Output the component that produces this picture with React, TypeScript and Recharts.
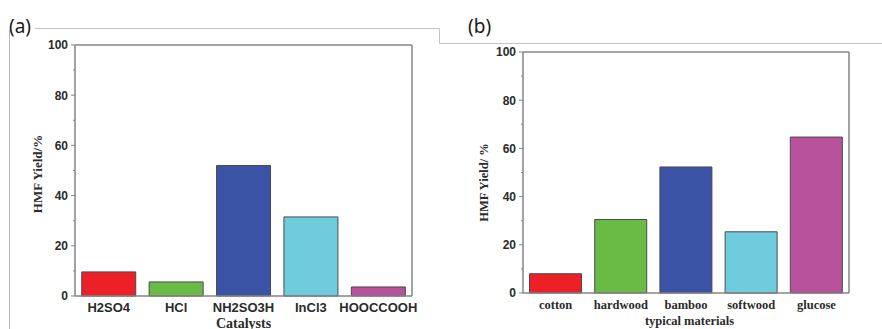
import React from 'react';
import { BarChart, Bar, XAxis, YAxis, Cell, CartesianGrid } from 'recharts';

// ---- data ----
const catalysts = ['H2SO4', 'HCl', 'NH2SO3H', 'InCl3', 'HOOCCOOH'];
const catalystYield = [9.6, 5.6, 52.0, 31.5, 3.6];
const materials = ['cotton', 'hardwood', 'bamboo', 'softwood', 'glucose'];
const materialYield = [8.0, 30.5, 52.3, 25.4, 64.7];
const yTicks = [0, 10, 20, 30, 40, 50, 60, 70, 80, 90, 100];
const barColors = ['#EE2027', '#6ABB45', '#3A53A4', '#6FCCDD', '#B8529D'];

const dataA = catalysts.map((name, i) => ({ name, value: catalystYield[i] }));
const dataB = materials.map((name, i) => ({ name, value: materialYield[i] }));

const SANS = '"Liberation Sans", Arial, sans-serif';
const SERIF = '"Liberation Serif", "Times New Roman", serif';
const AXIS = '#858585';
const TEXT = '#2b2b2b';

const YTick = (props: any) => {
  const { x, y, payload } = props;
  const v = payload.value;
  const major = v % 20 === 0;
  return (
    <g>
      <line x1={major ? x + 3 : x + 5} x2={x + 7} y1={y} y2={y} stroke={AXIS} strokeWidth={1} />
      {major && (
        <text x={x} y={y} dy={4.3} textAnchor="end" fontFamily={SANS} fontWeight="bold" fontSize={12} fill={TEXT}>
          {v}
        </text>
      )}
    </g>
  );
};

const makeXTick = (family: string, size: number, dy: number) => (props: any) => (
  <text x={props.x} y={props.y} dy={dy} textAnchor="middle" fontFamily={family} fontWeight="bold" fontSize={size} fill={TEXT}>
    {props.payload.value}
  </text>
);

const XTickA = makeXTick(SANS, 13, 15.6);
const XTickB = makeXTick(SERIF, 12.5, 15.7);

interface PanelProps {
  data: { name: string; value: number }[];
  width: number;
  margin: { top: number; right: number; bottom: number; left: number };
  yWidth: number;
  xHeight: number;
  xTick: any;
  xTitle: string;
  xTitleX: number;
  xTitleY: number;
  xTitleSize: number;
  yTitle: string;
  yTitleX: number;
  yTitleY: number;
  yTitleSize: number;
}

const Panel = (p: PanelProps) => (
  <BarChart width={p.width} height={329} data={p.data} margin={p.margin} barCategoryGap="10%">
    <CartesianGrid
      stroke={AXIS}
      strokeWidth={1.5}
      horizontalCoordinatesGenerator={(g: any) => [g.offset.top]}
      verticalCoordinatesGenerator={(g: any) => [g.offset.left + g.offset.width]}
    />
    <XAxis
      dataKey="name"
      height={p.xHeight}
      tickLine={false}
      tickSize={0}
      tickMargin={0}
      interval={0}
      axisLine={{ stroke: AXIS, strokeWidth: 1.5 }}
      tick={p.xTick}
      label={() => (
        <text x={p.xTitleX} y={p.xTitleY} textAnchor="middle" fontFamily={SERIF} fontWeight="bold" fontSize={p.xTitleSize} fill={TEXT}>
          {p.xTitle}
        </text>
      )}
    />
    <YAxis
      domain={[0, 100]}
      ticks={yTicks}
      interval={0}
      width={p.yWidth}
      tickSize={4}
      tickMargin={3}
      tickLine={false}
      axisLine={{ stroke: AXIS, strokeWidth: 1.5 }}
      tick={YTick}
      label={() => (
        <text
          transform={`translate(${p.yTitleX},${p.yTitleY}) rotate(-90)`}
          textAnchor="middle"
          fontFamily={SERIF}
          fontWeight="bold"
          fontSize={p.yTitleSize}
          fill={TEXT}
        >
          {p.yTitle}
        </text>
      )}
    />
    <Bar dataKey="value" isAnimationActive={false} stroke="#4a4a4a" strokeWidth={1}>
      {p.data.map((d, i) => (
        <Cell key={d.name} fill={barColors[i]} />
      ))}
    </Bar>
  </BarChart>
);

export default function App() {
  return (
    <div style={{ position: 'absolute', left: 0, top: 0, width: 882, height: 329, background: '#fff', overflow: 'hidden' }}>
      <svg width={882} height={329} style={{ position: 'absolute', left: 0, top: 0 }}>
        <polyline points="9.5,30 9.5,329" fill="none" stroke="#b8b8b8" strokeWidth={1} />
        <polyline points="35,28.5 439.5,28.5 439.5,43.5 882,43.5" fill="none" stroke="#c4c4c4" strokeWidth={1} />
        <text x={9} y={33} fontFamily='"Noto Sans", sans-serif' fontSize={19} fill="#1a1a1a">(a)</text>
        <text x={468} y={33} fontFamily='"Noto Sans", sans-serif' fontSize={19} fill="#1a1a1a">(b)</text>
      </svg>
      <div style={{ position: 'absolute', left: 0, top: 0 }}>
        <Panel
          data={dataA}
          width={450}
          margin={{ top: 45, right: 38, bottom: 0, left: 0 }}
          yWidth={75}
          xHeight={33}
          xTick={XTickA}
          xTitle="Catalysts"
          xTitleX={243.5}
          xTitleY={327.5}
          xTitleSize={14}
          yTitle="HMF Yield/%"
          yTitleX={41.8}
          yTitleY={174}
          yTitleSize={13}
        />
      </div>
      <div style={{ position: 'absolute', left: 440, top: 0 }}>
        <Panel
          data={dataB}
          width={442}
          margin={{ top: 52, right: 33, bottom: 0, left: 0 }}
          yWidth={83}
          xHeight={36}
          xTick={XTickB}
          xTitle="typical materials"
          xTitleX={249.5}
          xTitleY={325}
          xTitleSize={12.5}
          yTitle="HMF Yield/ %"
          yTitleX={47.6}
          yTitleY={182.5}
          yTitleSize={12.5}
        />
      </div>
    </div>
  );
}
